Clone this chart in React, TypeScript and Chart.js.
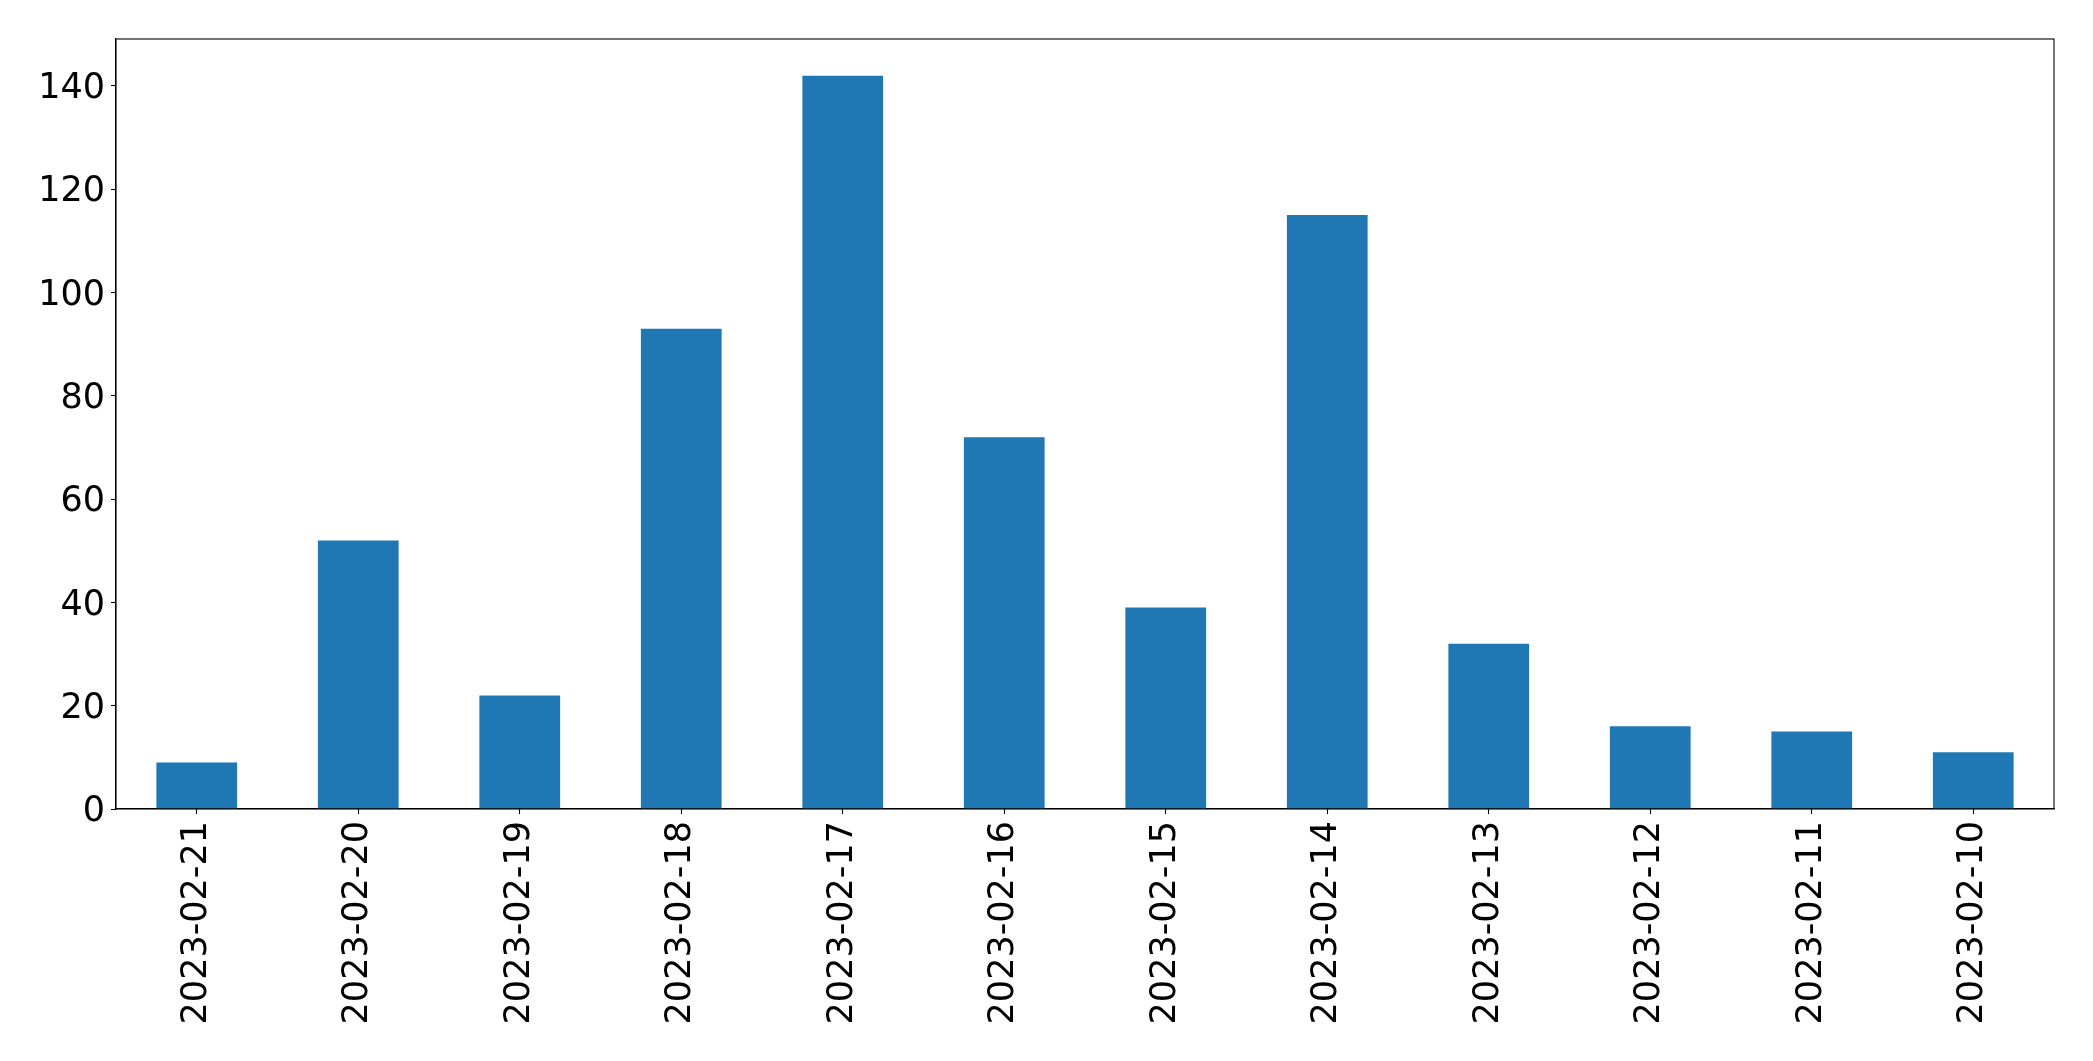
import React, { useEffect, useRef } from "react";
import { Chart, registerables } from "chart.js";

Chart.register(...registerables);

const categories = [
  "2023-02-21",
  "2023-02-20",
  "2023-02-19",
  "2023-02-18",
  "2023-02-17",
  "2023-02-16",
  "2023-02-15",
  "2023-02-14",
  "2023-02-13",
  "2023-02-12",
  "2023-02-11",
  "2023-02-10",
];
const counts = [9, 52, 22, 93, 142, 72, 39, 115, 32, 16, 15, 11];
const yTicks = [0, 20, 40, 60, 80, 100, 120, 140];
const yMax = 149.1;

const W = 2093;
const H = 1061;
const FONT = "'DejaVu Sans', sans-serif";

const framePlugin = {
  id: "frame",
  afterDraw(chart: any) {
    const { ctx, chartArea } = chart;
    ctx.save();
    ctx.strokeStyle = "#000";
    ctx.lineWidth = 1.1;
    ctx.strokeRect(chartArea.left, chartArea.top, chartArea.right - chartArea.left, chartArea.bottom - chartArea.top);
    ctx.restore();
  },
};

export default function App() {
  const ref = useRef<HTMLCanvasElement | null>(null);

  useEffect(() => {
    document.body.style.margin = "0";
    const canvas = ref.current!;
    const chart = new Chart(canvas, {
      type: "bar",
      data: {
        labels: categories,
        datasets: [
          {
            data: counts,
            backgroundColor: "#1f77b4",
            borderWidth: 0,
            categoryPercentage: 1,
            barPercentage: 0.5,
          },
        ],
      },
      options: {
        animation: false,
        responsive: false,
        maintainAspectRatio: false,
        devicePixelRatio: 1,
        layout: { padding: { top: 39, right: 39, left: 0, bottom: 0 } },
        plugins: {
          legend: { display: false },
          tooltip: { enabled: false },
          title: { display: false },
        },
        scales: {
          x: {
            type: "category",
            grid: {
              display: true,
              drawOnChartArea: false,
              drawTicks: true,
              tickLength: 5,
              tickWidth: 1.1,
              tickColor: "#000",
              color: "#000",
              offset: false,
            },
            border: { display: true, color: "#000", width: 1.1 },
            ticks: {
              color: "#000",
              font: { family: FONT, size: 35 },
              minRotation: 90,
              maxRotation: 90,
              autoSkip: false,
              padding: 7,
            },
            afterFit(scale: any) {
              scale.height = H - 809;
            },
          },
          y: {
            type: "linear",
            min: 0,
            max: yMax,
            grid: {
              display: true,
              drawOnChartArea: false,
              drawTicks: true,
              tickLength: 5,
              tickWidth: 1.1,
              tickColor: "#000",
              color: "#000",
            },
            border: { display: true, color: "#000", width: 1.1 },
            ticks: {
              color: "#000",
              font: { family: FONT, size: 35 },
              padding: 6,
              labelOffset: 3,
            },
            afterBuildTicks(scale: any) {
              scale.ticks = yTicks.map((v) => ({ value: v }));
            },
            afterFit(scale: any) {
              scale.width = 116;
            },
          },
        },
      },
      plugins: [framePlugin],
    });
    return () => chart.destroy();
  }, []);

  return (
    <div style={{ position: "absolute", left: 0, top: 0, width: W, height: H, background: "#fff" }}>
      <canvas ref={ref} width={W} height={H} style={{ width: W, height: H, display: "block" }} />
    </div>
  );
}
